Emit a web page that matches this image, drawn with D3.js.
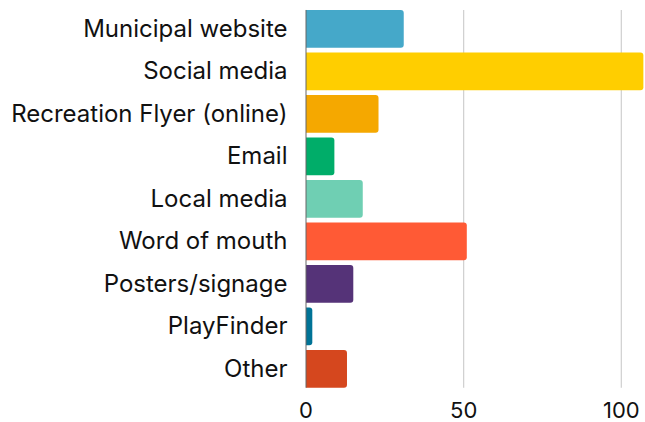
<!DOCTYPE html>
<html>
<head>
<meta charset="utf-8">
<script src="https://cdn.jsdelivr.net/npm/d3@7"></script>
<style>
  body { margin: 0; background: #fff; }
  svg text { font-family: Inter, "Noto Sans", sans-serif; fill: #111; }
</style>
</head>
<body>
<script>
// data
var categories = ["Municipal website", "Social media", "Recreation Flyer (online)", "Email",
  "Local media", "Word of mouth", "Posters/signage", "PlayFinder", "Other"];
var counts = [31, 107, 23, 9, 18, 51, 15, 2, 13];
var barColours = ["#45a8c9", "#ffce00", "#f5a800", "#00ad69", "#6fcfb3",
  "#ff5a35", "#553378", "#007396", "#d5471e"];
var xTicks = [0, 50, 100];

var width = 645, height = 422;
var margin = {top: 7.6, right: 0, bottom: 32, left: 306};

var svg = d3.select("body").append("svg")
  .attr("width", width)
  .attr("height", height);

var x = d3.scaleLinear()
  .domain([0, 100])
  .range([margin.left, 621.3]);

var y = d3.scaleBand()
  .domain(categories)
  .range([margin.top, 390.1])
  .paddingInner(0.113)
  .paddingOuter(0.056);

var gridTop = y(categories[0]);
var gridBottom = y(categories[categories.length - 1]) + y.bandwidth();

// vertical gridlines
svg.append("g")
  .selectAll("line")
  .data(xTicks.slice(1))
  .enter()
    .append("line")
    .attr("x1", function(d) { return x(d); })
    .attr("x2", function(d) { return x(d); })
    .attr("y1", gridTop)
    .attr("y2", gridBottom)
    .attr("stroke", "#cfcfcf")
    .attr("stroke-width", 1.2);

// bars with rounded right-hand corners
function barPath(d, i) {
  var x0 = x(0), x1 = x(d), y0 = y(categories[i]), h = y.bandwidth();
  var r = Math.min(3, (x1 - x0) / 2);
  return "M" + x0 + "," + y0 +
    "H" + (x1 - r) +
    "Q" + x1 + "," + y0 + " " + x1 + "," + (y0 + r) +
    "V" + (y0 + h - r) +
    "Q" + x1 + "," + (y0 + h) + " " + (x1 - r) + "," + (y0 + h) +
    "H" + x0 + "Z";
}

svg.append("g")
  .selectAll("path")
  .data(counts)
  .enter()
    .append("path")
    .attr("d", barPath)
    .attr("fill", function(d, i) { return barColours[i]; });

// baseline
svg.append("line")
  .attr("x1", x(0)).attr("x2", x(0))
  .attr("y1", gridTop).attr("y2", gridBottom)
  .attr("stroke", "#666")
  .attr("stroke-width", 1);

// category labels
svg.append("g")
  .selectAll("text")
  .data(categories)
  .enter()
    .append("text")
    .attr("x", 287.5)
    .attr("y", function(d) { return y(d) + y.bandwidth() / 2; })
    .attr("dy", "0.33em")
    .attr("text-anchor", "end")
    .attr("font-size", 24)
    .text(function(d) { return d; });

// x tick labels
svg.append("g")
  .selectAll("text")
  .data(xTicks)
  .enter()
    .append("text")
    .attr("x", function(d) { return x(d); })
    .attr("y", 418.3)
    .attr("text-anchor", "middle")
    .attr("font-size", 22)
    .text(function(d) { return d; });
</script>
</body>
</html>
